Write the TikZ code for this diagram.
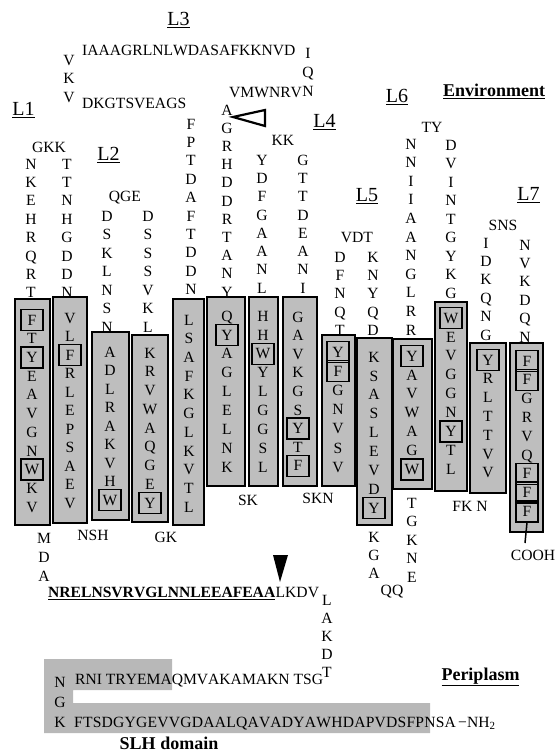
\documentclass[tikz,border=0pt]{standalone}
\usepackage{fontspec}
\setmainfont[Kerning=Off]{Liberation Serif}
\definecolor{helixgray}{gray}{0.745}
\definecolor{slhgray}{gray}{0.72}
% a vertical run of residues: name, x, y of first, step, letters
\newcommand\rescol[5]{%
  \foreach \r [count=\k] in {#5}{\node[res] (#1-\k) at (#2,{#3+(\k-1)*#4}) {\r};}}
\begin{document}
\begin{tikzpicture}[x=1pt,y=-1pt,
  res/.style={font=\fontsize{15.6}{18}\selectfont, inner sep=0pt,
              text height=10.3pt, text depth=0pt},
  seqline/.style={res, anchor=west},
  loopname/.style={font=\fontsize{20}{22}\selectfont, inner sep=0pt},
  region/.style={font=\fontsize{18}{20}\selectfont\bfseries, inner sep=0pt},
  helix/.style={draw=black, fill=helixgray, line width=2.6pt},
  frame/.style={draw=black, line width=1.3pt, minimum width=22pt,
                minimum height=21pt, inner sep=0pt},
]
\useasboundingbox (0,0) rectangle (555,753);

% ---------- transmembrane strands ----------
\draw[helix] (15,299) rectangle (50,525);
\draw[helix] (53,297) rectangle (87,523);
\draw[helix] (92,332) rectangle (129,520);
\draw[helix] (132,335) rectangle (168,522);
\draw[helix] (173,299) rectangle (204,525);
\draw[helix] (207,297) rectangle (245,486);
\draw[helix] (249,297) rectangle (278,486);
\draw[helix] (283,297) rectangle (317,486);
\draw[helix] (322,335) rectangle (355,486);
\draw[helix] (357,338) rectangle (392,525);
\draw[helix] (393,339) rectangle (432,489);
\draw[helix] (435,302) rectangle (467,491);
\draw[helix] (470,343) rectangle (506,493);
\draw[helix] (510,343) rectangle (543,532);

\rescol{h1}{32}{320}{18.7}{F,T,Y,E,A,V,G,N,W,K,V}
\rescol{h2}{70}{318}{18.5}{V,L,F,R,L,E,P,S,A,E,V}
\rescol{h3}{110}{352}{18.5}{A,D,L,R,A,K,V,H,W}
\rescol{h4}{150}{353}{18.75}{K,R,V,W,A,Q,G,E,Y}
\rescol{h5}{189}{320}{18.7}{L,S,A,F,K,G,L,K,V,T,L}
\rescol{h6}{227}{316}{18.9}{Q,Y,A,G,L,E,L,N,K}
\rescol{h7}{263}{316}{18.9}{H,H,W,Y,L,G,G,S,L}
\rescol{h8}{298}{317}{18.6}{G,A,V,K,G,S,Y,T,F}
\rescol{h9}{338}{352}{19.2}{Y,F,G,N,V,S,V}
\rescol{h10}{374}{357}{18.9}{K,S,A,S,L,E,V,D,Y}
\rescol{h11}{412}{356}{18.9}{Y,A,V,W,A,G,W}
\rescol{h12}{451}{318}{18.9}{W,E,V,G,G,N,Y,T,L}
\rescol{h13}{488}{360}{18.8}{Y,R,L,T,T,V,V}
\rescol{h14}{527}{361}{18.8}{F,F,G,R,V,Q,F,F,F}

% aromatic residues framed
\foreach \n in {h1-1,h1-3,h1-9,h2-3,h3-9,h4-9,h6-2,h7-3,h8-7,h8-9,
                h9-1,h9-2,h10-9,h11-1,h11-7,h12-1,h12-7,h13-1,
                h14-1,h14-2,h14-7,h14-8,h14-9}
  \node[frame] (fr-\n) at (\n) {};

% ---------- loops on the environment side ----------
\node[res] (gkk) at (49,147) {GKK};
\rescol{l1a}{31}{164}{18.4}{N,K,E,H,R,Q,R,T}
\rescol{l1b}{67}{164}{18.4}{T,T,N,H,G,D,D,N}

\node[res] (qge) at (125,196) {QGE};
\rescol{l2a}{107}{216}{18.5}{D,S,K,L,N,S,N}
\rescol{l2b}{148}{216}{18.5}{D,S,S,S,V,K,L}

\rescol{l3v}{69}{60}{18.5}{V,K,V}
\node[seqline] (l3top) at (82,50) {IAAAGRLNLWDASAFKKNVD};
\node[seqline] (l3low) at (82,103) {DKGTSVEAGS};
\rescol{l3q}{308}{53}{19}{I,Q,N}
\node[seqline] (l3mid) at (229,92) {VMWNRV};
\rescol{l3e}{191}{124}{18.4}{F,P,T,D,A,F,T,D,D,N}
\rescol{l3f}{227}{110}{18.2}{A,G,R,H,D,D,R,T,A,N,Y}
\draw[line width=2.2pt, line join=miter] (233,117) -- (265,110) -- (265,126) -- cycle;

\node[res] (kk) at (283,140) {KK};
\rescol{l4a}{262}{160}{18.3}{Y,D,F,G,A,A,N,L}
\rescol{l4b}{303}{160}{18.3}{G,T,T,D,E,A,N,I}

\node[res] (vdt) at (357,237) {VDT};
\rescol{l5a}{340}{257}{18.3}{D,F,N,Q,T}
\rescol{l5b}{373}{257}{18.3}{K,N,Y,Q,D}

\node[res] (ty) at (432,127) {TY};
\rescol{l6a}{411}{144}{18.6}{N,N,I,I,A,A,N,G,L,R,R}
\rescol{l6b}{451}{145}{18.5}{D,V,I,N,T,G,Y,K,G}

\node[res] (sns) at (503,225) {SNS};
\rescol{l7a}{486}{243}{18.4}{I,D,K,Q,N,G}
\rescol{l7b}{525}{245}{18.4}{N,V,K,D,Q,N}

% loop names
\node[loopname] (nL1) at (23.5,110) {\underline{L1}};
\node[loopname] (nL2) at (108.5,155) {\underline{L2}};
\node[loopname] (nL3) at (178.5,20) {\underline{L3}};
\node[loopname] (nL4) at (324.5,122) {\underline{L4}};
\node[loopname] (nL5) at (367,196) {\underline{L5}};
\node[loopname] (nL6) at (397,97) {\underline{L6}};
\node[loopname] (nL7) at (528.5,195) {\underline{L7}};
\node[region] (env) at (494,91) {\underline{Environment}};

% ---------- turns on the periplasmic side ----------
\rescol{p1}{44}{538}{19}{M,D,A}
\node[res] (nsh) at (93,535) {NSH};
\node[res] (gk) at (166,537) {GK};
\node[res] (sk) at (248,500) {SK};
\node[res] (skn) at (318,498) {SKN};
\rescol{p5}{374}{537}{18}{K,G,A}
\node[res] (qq) at (392,590) {QQ};
\rescol{p6}{412}{503}{18.5}{T,G,K,N,E}
\node[res] (fkn) at (470,506) {FK N};
\node[res] (cooh) at (533,555) {COOH};
\coordinate (ctail) at (525,543);
\draw[line width=1.5pt] (fr-h14-9.south) -- (ctail);

% ---------- N-terminal region ----------
\fill[slhgray] (44,659) -- (172,659) -- (172,690) -- (73,690) -- (73,703)
  -- (430,703) -- (430,733) -- (44,733) -- cycle;

\node[seqline] (plug) at (48,592) {\bfseries\underline{NRELNSVRVGLNNLEEAFEAA}};
\node[seqline] (lkdv) at (plug.east) {LKDV};
\fill (273,555) -- (288,555) -- (280,582) -- cycle;
\rescol{nt}{327}{600}{18.1}{L,A,K,D,T}
\node[seqline] (nseq1) at (75,679) {RNI TRYEMAQMVAKAMAKN TSG};
\rescol{ngk}{60}{682}{20}{N,G,K}
\node[seqline] (nseq2) at (74,722) {\addfontfeatures{LetterSpace=1.4}FTSDGYGEVVGDAALQAVADYAWHDAPVDSFPNSA};
\node[seqline] (nh2) at (458,722) {−NH\textsubscript{2}};
\node[region] (peri) at (480.5,677) {\underline{Periplasm}};
\node[region] (slh) at (169,743) {SLH domain};
\end{tikzpicture}
\end{document}
